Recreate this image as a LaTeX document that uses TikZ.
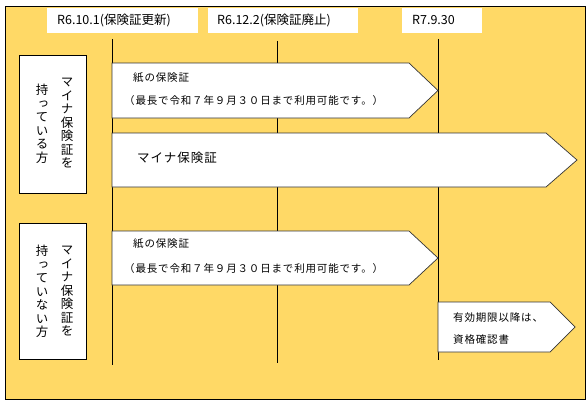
\documentclass[tikz,border=0pt]{standalone}
\usepackage{fontspec}
\setmainfont{Noto Sans CJK JP}
\newfontfamily\vertfont{Noto Sans CJK JP}[RawFeature=+vert]
\usepackage{tikz}
\usetikzlibrary{positioning}
\definecolor{cardyellow}{HTML}{FFD966}

\tikzset{
  datebox/.style={fill=white, minimum width=#1, minimum height=25pt, inner sep=0pt},
  datetext/.style={anchor=west, font=\fontsize{12.5}{12.5}\selectfont, inner sep=0pt},
  sidebox/.style={draw=black, fill=white, line width=0.8pt, minimum width=67pt, inner sep=0pt},
  vtext/.style={align=center, font=\vertfont\fontsize{12.5}{13.5}\selectfont, inner sep=0pt},
  arrowbox/.style={draw=black!80, fill=white, line width=0.7pt},
  cardtext/.style={anchor=west, inner sep=0pt, font=\fontsize{10.5}{10.5}\selectfont\addfontfeature{LetterSpace=8}},
  timeline/.style={draw=black, line width=0.8pt}
}

\begin{document}
\begin{tikzpicture}[x=1pt, y=-1pt]
  \useasboundingbox (0,0) rectangle (588,404);
  \fill[cardyellow, draw=black, line width=0.8pt] (5,6) rectangle (585,399);

  % dates along the top
  \node[datebox=151pt] (renew) at (122.5,20.5) {};
  \node[datetext] (renewtext) at (57,20.5) {R6.10.1(保険証更新)};
  \node[datebox=150pt] (abolish) at (283,20.5) {};
  \node[datetext] (abolishtext) at (217,20.5) {R6.12.2(保険証廃止)};
  \node[datebox=80pt] (expire) at (442,20.5) {};
  \node[datetext] (expiretext) at (412,20.5) {R7.9.30};

  % time lines
  \coordinate (renewtop) at (112,39);  \coordinate (renewbot) at (112,365);
  \coordinate (abolishtop) at (277,41); \coordinate (abolishbot) at (277,363);
  \coordinate (expiretop) at (438,39); \coordinate (expirebot) at (438,360);
  \draw[timeline] (renewtop) -- (renewbot);
  \draw[timeline] (abolishtop) -- (abolishbot);
  \draw[timeline] (expiretop) -- (expirebot);

  % people who have one
  \node[sidebox, minimum height=138pt] (haveone) at (52.5,124) {};
  \node[vtext] (haveright) at (67,123.5) {マ\\イ\\ナ\\保\\険\\証\\を};
  \node[vtext] (haveleft) at (42,124) {持\\っ\\て\\い\\る\\方};

  \draw[arrowbox] (112,63) -- (409,63) -- (438,90.5) -- (409,118) -- (112,118) -- cycle;
  \node[cardtext] (paperone) at (133,78) {紙の保険証};
  \node[cardtext] (paperonenote) at (124,101) {（最長で令和７年９月３０日まで利用可能です。）};

  \draw[arrowbox] (112,133) -- (546,133) -- (577,160) -- (546,187) -- (112,187) -- cycle;
  \node[cardtext, font=\fontsize{12.5}{12.5}\selectfont\addfontfeature{LetterSpace=8}] (mynacard) at (137,158) {マイナ保険証};

  % people who do not have one
  \node[sidebox, minimum height=136pt] (havenone) at (52.5,291) {};
  \node[vtext] (noneright) at (67,291.5) {マ\\イ\\ナ\\保\\険\\証\\を};
  \node[vtext] (noneleft) at (42,291.5) {持\\っ\\て\\い\\な\\い\\方};

  \draw[arrowbox] (112,231) -- (409,231) -- (438,258) -- (409,285) -- (112,285) -- cycle;
  \node[cardtext] (papertwo) at (133,244) {紙の保険証};
  \node[cardtext] (papertwonote) at (124,269) {（最長で令和７年９月３０日まで利用可能です。）};

  \draw[arrowbox] (438,302) -- (550,302) -- (575,327) -- (550,352) -- (438,352) -- cycle;
  \node[cardtext] (qualify) at (453,318) {有効期限以降は、};
  \node[cardtext] (qualifycert) at (453,340) {資格確認書};
\end{tikzpicture}
\end{document}
